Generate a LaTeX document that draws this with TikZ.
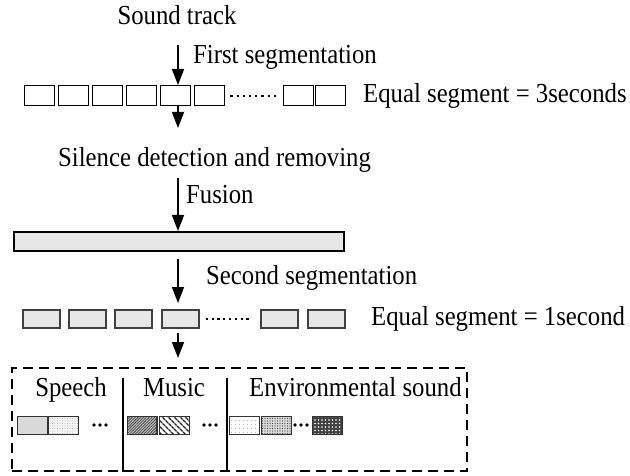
\documentclass[tikz,border=0pt]{standalone}
\usepackage{fontspec}
\setmainfont{Liberation Serif}[FakeStretch=0.9]
\usetikzlibrary{arrows.meta, patterns.meta, positioning}

\tikzset{
    lbl/.style={font=\fontsize{27.5}{32}\selectfont, inner sep=0pt},
    flow/.style={line width=1.6pt, -{Triangle[width=12pt,length=16pt]}},
    dotline/.style={line width=2.2pt, dash pattern=on 2.2pt off 4pt},
    seg/.style={draw, line width=1.4pt, minimum width=30pt, minimum height=20pt, inner sep=0pt, anchor=north west},
    grayfill/.style={preaction={fill=gray!14}, pattern={Dots[distance=2pt,radius=0.45pt]}, pattern color=gray!65},
    seggray/.style={draw=black!75, line width=1.7pt, minimum width=37pt, minimum height=18pt, inner sep=0pt, anchor=north west, grayfill},
    clsbox/.style={draw=black!80, line width=1.4pt, minimum width=29.5pt, minimum height=18pt, inner sep=0pt, anchor=north west}
}
\newcommand{\threedots}[1]{\foreach \k in {-6,0,6} \fill (#1) ++(\k,0) circle (1.8);}

\begin{document}
\begin{tikzpicture}[x=1pt, y=-1pt]
    \useasboundingbox (0,0) rectangle (630,476);

    % 第一次分段
    \node[lbl, anchor=base] (track) at (177,25) {Sound track};
    \node[lbl, anchor=base west] (seg1) at (193,64) {First segmentation};
    \foreach \x [count=\i] in {24,58,92,126,160,194,283,315}
        \node[seg] (s\i) at (\x,85) {};
    \draw[dotline] ([xshift=5pt]s6.east) -- ([xshift=-5pt]s7.west);
    \node[lbl, anchor=base west] (eq3) at (363,103) {Equal segment = 3seconds};
    \coordinate (a1) at (178,45);
    \draw[flow] (a1) -- (a1 |- s5.north);
    \coordinate (e2) at (178,128);
    \draw[flow] (e2 |- s5.south) -- (e2);

    % 静音检测与融合
    \node[lbl, anchor=base west] (silence) at (58,167) {Silence detection and removing};
    \node[lbl, anchor=base west] (fusion) at (186,204) {Fusion};
    \node[draw, line width=1.7pt, grayfill, minimum width=330pt, minimum height=19pt, inner sep=0pt, anchor=north west] (bar) at (13,231) {};
    \coordinate (a3) at (178,178);
    \draw[flow] (a3) -- (a3 |- bar.north);

    % 第二次分段
    \node[lbl, anchor=base west] (seg2) at (206,284) {Second segmentation};
    \coordinate (a4) at (178,259);
    \coordinate (e4) at (178,303);
    \draw[flow] (a4) -- (e4);
    \foreach \x [count=\i] in {22,68,114,161,260,307}
        \node[seggray] (t\i) at (\x,309) {};
    \draw[dotline, dash pattern=on 2.2pt off 3.6pt] ([xshift=6pt]t4.east) -- ([xshift=-10pt]t5.west);
    \node[lbl, anchor=base west] (eq1) at (371,325) {Equal segment = 1second};
    \coordinate (a5) at (178,333);
    \coordinate (e5) at (178,358);
    \draw[flow] (a5) -- (e5);

    % 分类
    \node[draw, line width=1.6pt, dash pattern=on 10pt off 6pt, minimum width=455pt, minimum height=103pt, inner sep=0pt, anchor=north west] (cls) at (11,367) {};
    \coordinate (d1) at (123,378);
    \coordinate (d2) at (227,378);
    \draw[line width=1.5pt] (d1) -- (d1 |- cls.south);
    \draw[line width=1.5pt] (d2) -- (d2 |- cls.south);
    \node[lbl, anchor=base] (speech) at (71,396) {Speech};
    \node[lbl, anchor=base] (music) at (174,396) {Music};
    \node[lbl, anchor=base west] (env) at (249,396) {Environmental sound};

    \node[clsbox, preaction={fill=gray!25}, pattern={Dots[distance=2pt,radius=0.45pt]}, pattern color=gray!80] (sp1) at (17,416) {};
    \node[clsbox, preaction={fill=gray!8}, pattern={Dots[distance=2.5pt,radius=0.45pt]}, pattern color=gray!80] (sp2) at (48,416) {};
    \node[clsbox, preaction={fill=gray!45}, pattern={Lines[angle=45,distance=2pt,line width=0.8pt]}, pattern color=black!75] (mu1) at (127,416) {};
    \node[clsbox, pattern={Lines[angle=-45,distance=4pt,line width=1.4pt]}, pattern color=black!85] (mu2) at (159,416) {};
    \node[clsbox, preaction={fill=white}, pattern={Dots[distance=4pt,radius=0.6pt]}, pattern color=gray!80] (en1) at (229,416) {};
    \node[clsbox, preaction={fill=gray!30}, pattern={Dots[distance=2.5pt,radius=0.6pt]}, pattern color=black!70] (en2) at (261,416) {};
    \node[clsbox, preaction={fill=black!75}, pattern={Dots[distance=3.5pt,radius=0.9pt]}, pattern color=white] (en3) at (312,416) {};
    \threedots{100,425}
    \threedots{210,425}
    \threedots{301,425}
\end{tikzpicture}
\end{document}
